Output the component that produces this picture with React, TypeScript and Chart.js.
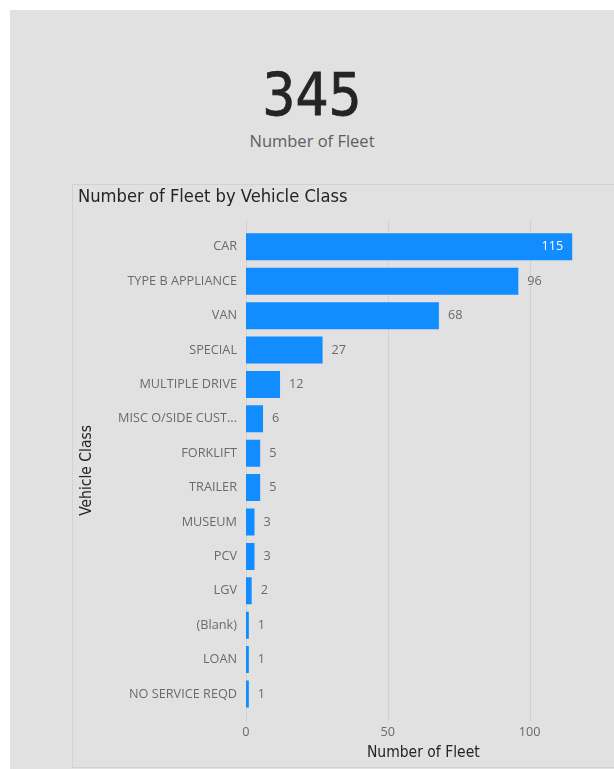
import React, { useEffect, useRef } from "react";
import { Chart, registerables } from "chart.js";

Chart.register(...registerables);

// ---- data ----
const categories = [
  "CAR",
  "TYPE B APPLIANCE",
  "VAN",
  "SPECIAL",
  "MULTIPLE DRIVE",
  "MISC O/SIDE CUST...",
  "FORKLIFT",
  "TRAILER",
  "MUSEUM",
  "PCV",
  "LGV",
  "(Blank)",
  "LOAN",
  "NO SERVICE REQD",
];
const fleetCounts = [115, 96, 68, 27, 12, 6, 5, 5, 3, 3, 2, 1, 1, 1];
const xTickValues = [0, 50, 100];
const totalFleet = 345;
const kpiLabel = "Number of Fleet";
const chartTitle = "Number of Fleet by Vehicle Class";
const xAxisTitle = "Number of Fleet";
const yAxisTitle = "Vehicle Class";

// ---- styles ----
const PANEL_BG = "#e1e1e1";
const BAR_COLOR = "#118DFF";
const GRID_COLOR = "#d3d0cd";
const LABEL_COLOR = "#6b6a68";
const DARK = "#252423";
const DIN = "'DejaVu Sans Condensed', 'DejaVu Sans', sans-serif";
const UI = "'Open Sans', 'Noto Sans', sans-serif";
const UI_SIZE = 12.7;

const gridPlugin = {
  id: "customGrid",
  beforeDatasetsDraw(chart: any) {
    const { ctx, chartArea } = chart;
    const x = chart.scales.x;
    ctx.save();
    ctx.strokeStyle = GRID_COLOR;
    ctx.lineWidth = 1;
    x.ticks.forEach((t: any) => {
      const px = Math.round(x.getPixelForValue(t.value)) + 0.5;
      ctx.beginPath();
      ctx.moveTo(px, chartArea.top - 9.6);
      ctx.lineTo(px, chartArea.bottom + 10.5);
      ctx.stroke();
    });
    ctx.restore();
  },
};

const valueLabelPlugin = {
  id: "valueLabels",
  afterDatasetsDraw(chart: any) {
    const { ctx, chartArea } = chart;
    const meta = chart.getDatasetMeta(0);
    const values = chart.data.datasets[0].data as number[];
    ctx.save();
    ctx.font = `${UI_SIZE}px ${UI}`;
    ctx.textBaseline = "middle";
    meta.data.forEach((bar: any, i: number) => {
      const txt = String(values[i]);
      const w = ctx.measureText(txt).width;
      const outX = bar.x + 9;
      if (outX + w > chartArea.right - 4) {
        ctx.fillStyle = "#ffffff";
        ctx.textAlign = "right";
        ctx.fillText(txt, bar.x - 9, bar.y);
      } else {
        ctx.fillStyle = LABEL_COLOR;
        ctx.textAlign = "left";
        ctx.fillText(txt, outX, bar.y);
      }
    });
    ctx.restore();
  },
};

function BarChart() {
  const ref = useRef<HTMLCanvasElement | null>(null);
  useEffect(() => {
    if (!ref.current) return;
    const chart = new Chart(ref.current, {
      type: "bar",
      data: {
        labels: categories,
        datasets: [
          {
            data: fleetCounts,
            backgroundColor: BAR_COLOR,
            borderWidth: 0,
            barPercentage: 0.785,
            categoryPercentage: 1,
          },
        ],
      },
      options: {
        indexAxis: "y",
        responsive: false,
        animation: false,
        layout: { padding: { left: 4, right: 13.4, top: 0, bottom: 0 } },
        plugins: {
          legend: { display: false },
          tooltip: { enabled: false },
          title: {
            display: true,
            text: chartTitle,
            align: "start",
            color: DARK,
            font: { family: DIN, size: 18.2, weight: "normal" },
            padding: { top: 0, bottom: 21.8 },
          },
        },
        scales: {
          x: {
            type: "linear",
            min: 0,
            max: 125,
            afterBuildTicks: (s: any) => {
              s.ticks = xTickValues.map((v) => ({ value: v }));
            },
            afterFit: (s: any) => {
              s.height = 54.8;
            },
            grid: { display: false, drawTicks: false },
            border: { display: false },
            ticks: {
              padding: 13.9,
              color: LABEL_COLOR,
              font: { family: UI, size: UI_SIZE },
            },
            title: {
              display: true,
              text: xAxisTitle,
              color: DARK,
              font: { family: DIN, size: 15.5, weight: "normal" },
              padding: { top: 0, bottom: 3.7 },
            },
          },
          y: {
            afterFit: (s: any) => {
              s.width = 168;
            },
            grid: { display: false, drawTicks: false },
            border: { display: false },
            ticks: {
              padding: 9,
              autoSkip: false,
              color: LABEL_COLOR,
              font: { family: UI, size: UI_SIZE },
            },
            title: {
              display: true,
              text: yAxisTitle,
              color: DARK,
              font: { family: DIN, size: 15.5, weight: "normal" },
              padding: { top: 0, bottom: 0 },
            },
          },
        },
      } as any,
      plugins: [gridPlugin, valueLabelPlugin],
    });
    return () => chart.destroy();
  }, []);
  return (
    <canvas
      ref={ref}
      width={540}
      height={580}
      style={{ position: "absolute", left: 64, top: 176, width: 540, height: 580 }}
    />
  );
}

export default function App() {
  return (
    <div
      style={{
        position: "absolute",
        left: 10,
        top: 10,
        width: 604,
        height: 759,
        background: PANEL_BG,
        overflow: "hidden",
      }}
    >
      <div
        style={{
          position: "absolute",
          left: 0,
          top: 55.9,
          width: 604,
          textAlign: "center",
          fontFamily: DIN,
          fontSize: 58,
          lineHeight: "58px",
          color: DARK,
          WebkitTextStroke: `0.8px ${DARK}`,
        }}
      >
        {totalFleet}
      </div>
      <div
        style={{
          position: "absolute",
          left: 0,
          top: 122.7,
          width: 604,
          textAlign: "center",
          fontFamily: UI,
          fontSize: 16.5,
          lineHeight: "16.5px",
          color: "#605E5C",
        }}
      >
        {kpiLabel}
      </div>
      <div
        style={{
          position: "absolute",
          left: 62,
          top: 174,
          width: 600,
          height: 584,
          boxSizing: "border-box",
          border: "1px solid #d2d2d2",
          borderRight: "none",
        }}
      />
      <BarChart />
    </div>
  );
}
